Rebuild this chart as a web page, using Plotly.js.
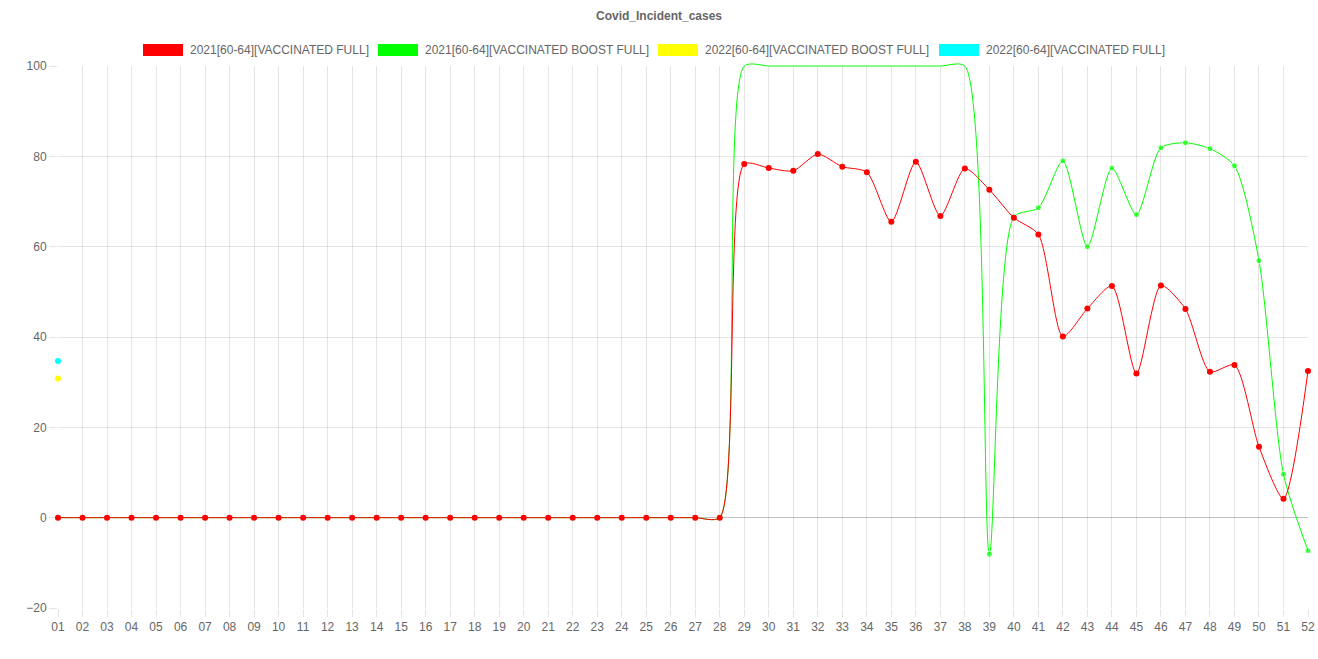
<!DOCTYPE html>
<html>
<head>
<meta charset="utf-8">
<script src="https://cdn.plot.ly/plotly-3.0.1.min.js"></script>
<style>html,body{margin:0;padding:0;background:#fff;}#chart{width:1318px;height:659px;}</style>
</head>
<body>
<div id="chart"></div>
<script>
const weeks = ['01','02','03','04','05','06','07','08','09','10','11','12','13','14','15','16','17','18','19','20','21','22','23','24','25','26','27','28','29','30','31','32','33','34','35','36','37','38','39','40','41','42','43','44','45','46','47','48','49','50','51','52'];

const full2021 = [0,0,0,0,0,0,0,0,0,0,0,0,0,0,0,0,0,0,0,0,0,0,0,0,0,0,0,0,
  78.3,77.4,76.8,80.5,77.7,76.5,65.5,78.8,66.8,77.3,72.6,66.4,62.7,40.1,46.3,51.3,31.9,51.4,46.2,32.3,33.8,15.7,4.2,32.5];

const boost2021 = [0,0,0,0,0,0,0,0,0,0,0,0,0,0,0,0,0,0,0,0,0,0,0,0,0,0,0,0,
  100,100,100,100,100,100,100,100,100,100,
  -8.1,66.6,68.6,79.0,60.0,77.4,67.1,81.9,83.0,81.7,77.9,56.9,9.6,-7.3];

const boost2022Weeks = ['01'];
const boost2022 = [30.8];
const full2022Weeks = ['01'];
const full2022 = [34.7];

const seriesNames = ['2021[60-64][VACCINATED FULL]','2021[60-64][VACCINATED BOOST FULL]','2022[60-64][VACCINATED BOOST FULL]','2022[60-64][VACCINATED FULL]'];
const seriesColors = ['#ff0000','#00ff00','#ffff00','#00ffff'];

const yMin = -20, yMax = 100;
const SMOOTH = 0.7;

const traces = [
  {x: full2022Weeks, y: full2022, name: seriesNames[3], type:'scatter', mode:'lines+markers', cliponaxis:false,
   line:{color:seriesColors[3], width:1, shape:'spline', smoothing:SMOOTH}, marker:{color:seriesColors[3], size:6}, showlegend:false},
  {x: boost2022Weeks, y: boost2022, name: seriesNames[2], type:'scatter', mode:'lines+markers', cliponaxis:false,
   line:{color:seriesColors[2], width:1, shape:'spline', smoothing:SMOOTH}, marker:{color:seriesColors[2], size:6}, showlegend:false},
  {x: weeks, y: boost2021, name: seriesNames[1], type:'scatter', mode:'lines+markers', cliponaxis:false,
   line:{color:seriesColors[1], width:1, shape:'spline', smoothing:SMOOTH},
   marker:{color:seriesColors[1], size: boost2021.map(v => v >= yMax ? 0 : 6)}, showlegend:false},
  {x: weeks, y: full2021, name: seriesNames[0], type:'scatter', mode:'lines+markers', cliponaxis:false,
   line:{color:seriesColors[0], width:1, shape:'spline', smoothing:SMOOTH}, marker:{color:seriesColors[0], size:6}, showlegend:false}
];

// custom legend (Chart.js-style boxes)
const L = 58, T = 66, W = 1250, H = 542;
const px2x = p => (p - L) / W;
const py2y = p => (T + H - p) / H;
const boxLeft = [143, 378, 658, 939];
const shapes = [], annotations = [];
seriesNames.forEach((n, i) => {
  shapes.push({type:'rect', xref:'paper', yref:'paper', x0:px2x(boxLeft[i]), x1:px2x(boxLeft[i]+40),
    y0:py2y(56), y1:py2y(44), fillcolor:seriesColors[i], line:{width:0}});
  annotations.push({xref:'paper', yref:'paper', x:px2x(boxLeft[i]+45), y:py2y(50), xanchor:'left', yanchor:'middle',
    text:n, showarrow:false, font:{family:'Liberation Sans, Arial, sans-serif', size:12, color:'#666'}});
});

const layout = {
  width:1318, height:659,
  margin:{l:L, r:1318-L-W, t:T, b:659-T-H, autoexpand:false},
  paper_bgcolor:'#fff', plot_bgcolor:'#fff',
  font:{family:'Liberation Sans, Arial, sans-serif', size:12, color:'#666'},
  title:{text:'Covid_Incident_cases', x:0.5, xref:'container', xanchor:'center', y:1-16/659, yref:'container', yanchor:'middle',
    font:{family:'Liberation Sans, Arial, sans-serif', size:12, color:'#666', weight:'bold'}},
  showlegend:false,
  xaxis:{type:'category', categoryorder:'array', categoryarray:weeks, range:[0, weeks.length-1],
    showgrid:true, gridcolor:'rgba(0,0,0,0.1)', gridwidth:1, zeroline:false, showline:false,
    ticks:'outside', ticklen:8, tickcolor:'rgba(0,0,0,0.1)', tickfont:{size:12, color:'#666'}, fixedrange:true},
  yaxis:{range:[yMin, yMax], tickvals:[-20,0,20,40,60,80,100], showgrid:true, gridcolor:'rgba(0,0,0,0.1)', gridwidth:1,
    zeroline:true, zerolinecolor:'rgba(0,0,0,0.25)', zerolinewidth:1, showline:false,
    ticks:'outside', ticklen:8, tickcolor:'rgba(0,0,0,0.1)', tickfont:{size:12, color:'#666'}, fixedrange:true},
  shapes: shapes,
  annotations: annotations
};

Plotly.newPlot('chart', traces, layout, {displayModeBar:false, staticPlot:true}).then(() => {
  // let the line that sits on the top edge stay whole (Chart.js clamps its curve there)
  document.querySelectorAll('#chart .scatterlayer path.js-line').forEach(p => p.removeAttribute('clip-path'));
});
</script>
</body>
</html>
